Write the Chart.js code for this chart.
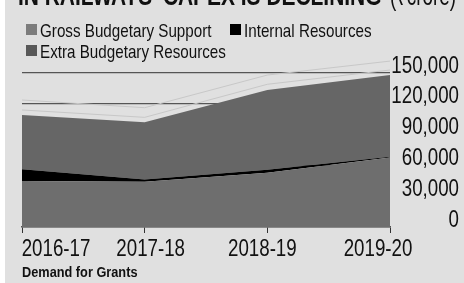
<!DOCTYPE html>
<html>
<head>
<meta charset="utf-8">
<script src="https://cdn.jsdelivr.net/npm/chart.js@4.4.1/dist/chart.umd.min.js"></script>
<style>
  html, body { margin: 0; padding: 0; background: #fff; }
  canvas { display: block; }
</style>
</head>
<body>
<canvas id="myChart" width="464" height="283"></canvas>
<script>
// data (Rs crore)
const years = ['2016-17', '2017-18', '2018-19', '2019-20'];
const grossBudgetary = [44800, 44100, 52900, 67700];
const internalRes = [11400, 2200, 2900, 800];
const extraBudgetary = [52900, 55700, 77600, 79600];
// the two faint lines above the stack
const faintUpper = [123700, 116200, 148000, 161600];
const faintLower = [114000, 106800, 139000, 152900];
const yTicks = [0, 30000, 60000, 90000, 120000, 150000];

const FONT = "'Liberation Sans', Arial, sans-serif";
const BG = '#e0e0e0';

// label nudges so the year labels sit like the print version
const xLabelShift = [34, 6, -5, -12];

// no narrow face installed, so squeeze the text horizontally
function narrowText(ctx, text, x, y, font, sx, align) {
    ctx.save();
    ctx.font = font;
    ctx.textAlign = align || 'left';
    ctx.translate(x, y);
    ctx.scale(sx, 1);
    ctx.fillText(text, 0, 0);
    ctx.restore();
}

const extras = {
    id: 'extras',
    beforeDraw(chart) {
        const ctx = chart.ctx;
        ctx.save();
        ctx.fillStyle = '#fff';
        ctx.fillRect(0, 0, chart.width, chart.height);
        ctx.fillStyle = BG;
        ctx.fillRect(5, 0, chart.width - 5, chart.height);
        ctx.restore();
    },
    afterDraw(chart) {
        const ctx = chart.ctx;
        const x = chart.scales.x;
        const y = chart.scales.y;
        ctx.save();
        ctx.fillStyle = '#111';
        ctx.textBaseline = 'alphabetic';

        // headline, mostly cropped off the top
        narrowText(ctx, "IN RAILWAYS' CAPEX IS DECLINING", 18, 5, 'bold 27px ' + FONT, 0.775);
        narrowText(ctx, '(\u20b9crore)', 390, 5, '27px ' + FONT, 0.7);

        // legend
        const items = [
            {ds: 0, x: 26, y: 24},
            {ds: 1, x: 230, y: 24},
            {ds: 2, x: 26, y: 45}
        ];
        items.forEach((it) => {
            const d = chart.data.datasets[it.ds];
            ctx.fillStyle = d.legendColor;
            ctx.fillRect(it.x, it.y, 11, 11);
            ctx.fillStyle = '#111';
            narrowText(ctx, d.label, it.x + 14, it.y + 13, '19px ' + FONT, 0.8);
        });

        // y tick labels, right aligned, sitting above their grid lines
        yTicks.forEach((v) => {
            narrowText(ctx, v.toLocaleString('en-US'), 459, y.getPixelForValue(v) - 0.5, '24px ' + FONT, 0.78, 'right');
        });

        // year labels
        years.forEach((yr, i) => {
            narrowText(ctx, yr, x.getPixelForTick(i) + xLabelShift[i], 256, '24px ' + FONT, 0.78, 'center');
        });

        // source
        narrowText(ctx, 'Demand for Grants', 22, 277, 'bold 15px ' + FONT, 0.85);
        ctx.restore();
    }
};

const ctx = document.getElementById('myChart').getContext('2d');
const myChart = new Chart(ctx, {
    type: 'line',
    data: {
        labels: years,
        datasets: [{
            label: 'Gross Budgetary Support',
            data: grossBudgetary,
            backgroundColor: '#6e6e6e',
            legendColor: '#7c7c7c',
            borderWidth: 0,
            fill: 'origin',
            stack: 'capex'
        }, {
            label: 'Internal Resources',
            data: internalRes,
            backgroundColor: '#000',
            legendColor: '#000',
            borderWidth: 0,
            fill: '-1',
            stack: 'capex'
        }, {
            label: 'Extra Budgetary Resources',
            data: extraBudgetary,
            backgroundColor: '#666666',
            legendColor: '#585858',
            borderWidth: 0,
            fill: '-1',
            stack: 'capex'
        }, {
            label: 'upper',
            data: faintUpper,
            borderColor: '#c8c8c8',
            borderWidth: 1,
            fill: false,
            clip: false,
            stack: 'a'
        }, {
            label: 'lower',
            data: faintLower,
            borderColor: '#c8c8c8',
            borderWidth: 1,
            fill: false,
            clip: false,
            stack: 'b'
        }]
    },
    options: {
        responsive: false,
        animation: false,
        devicePixelRatio: 1,
        elements: {
            point: { radius: 0 },
            line: { tension: 0 }
        },
        layout: { padding: { left: 22, top: 73, right: 0, bottom: 0 } },
        plugins: {
            legend: { display: false },
            tooltip: { enabled: false }
        },
        scales: {
            x: {
                offset: false,
                grid: { drawOnChartArea: false, drawTicks: true, tickLength: 6, color: '#333', lineWidth: 1 },
                border: { display: true, color: '#555', width: 1.5 },
                ticks: { display: false },
                afterFit(scale) { scale.height = 56; }
            },
            y: {
                position: 'right',
                stacked: true,
                min: 0,
                max: 150000,
                afterBuildTicks(scale) { scale.ticks = yTicks.map((v) => ({ value: v })); },
                grid: { color: '#555', lineWidth: 1.3, drawTicks: false },
                border: { display: false },
                ticks: { display: false },
                afterFit(scale) { scale.width = 74; }
            }
        }
    },
    plugins: [extras]
});
</script>
</body>
</html>
